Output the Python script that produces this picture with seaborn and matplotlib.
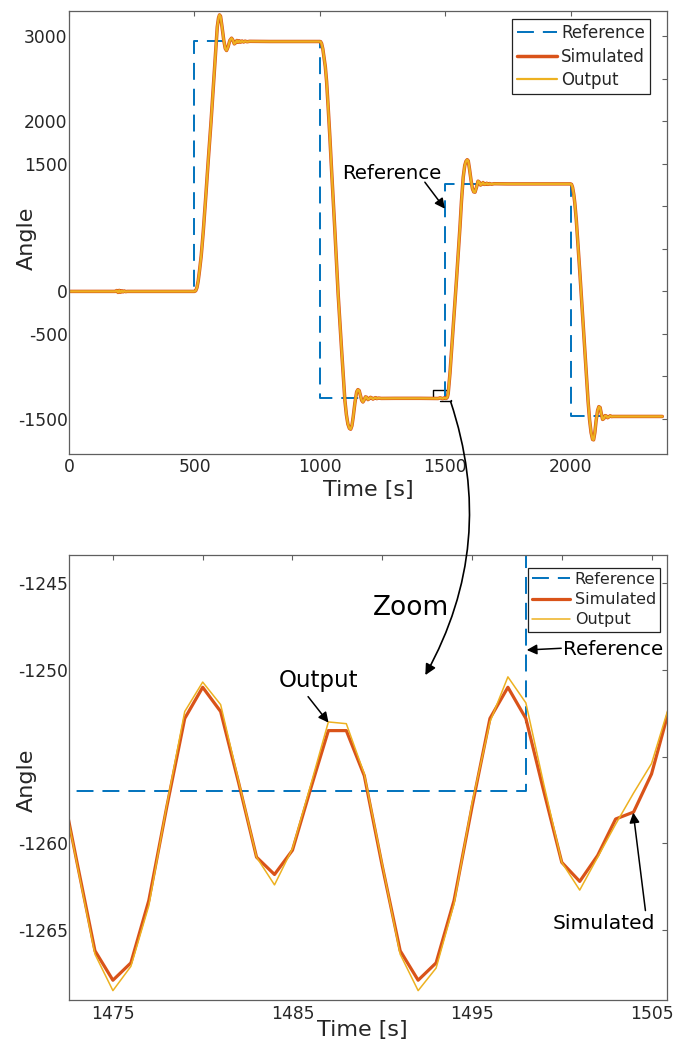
import matplotlib
matplotlib.use("Agg")
import matplotlib.pyplot as plt
import seaborn as sns
from matplotlib.patches import ConnectionPatch

# ---------------- data ----------------
ref_time = [0, 500, 1000, 1498, 2000, 2366]
ref_angle = [0, 2938, -1257, 1264, -1470, -1470]

top_time = [0, 100, 185, 190, 195, 200, 205, 210, 215, 220, 225, 232, 300, 400, 495, 500,
            505, 510, 515, 520, 527, 535, 545, 555, 566, 575, 583, 591, 596, 600, 604, 610,
            617, 623, 628, 634, 641, 648, 653, 659, 664, 669, 674, 679, 684, 690, 696, 702,
            710, 720, 800, 900, 1000,
            1003, 1007, 1012, 1017, 1022, 1027, 1033, 1040, 1047, 1060, 1073, 1087, 1100,
            1106, 1112, 1118, 1123, 1128, 1133, 1140, 1147, 1152, 1157, 1162, 1167, 1172,
            1177, 1182, 1187, 1192, 1197, 1202, 1207, 1212, 1217, 1222, 1227, 1235, 1245,
            1300, 1400, 1472, 1480, 1490, 1497, 1503, 1506,
            1509, 1512, 1519, 1525, 1532, 1539, 1545, 1552, 1559, 1565, 1572, 1578, 1583,
            1588, 1592, 1597, 1603, 1609, 1614, 1619, 1625, 1631, 1636, 1641, 1646, 1651,
            1656, 1661, 1666, 1671, 1677, 1685, 1695, 1750, 1850, 1950, 2000,
            2004, 2008, 2013, 2017, 2023, 2030, 2037, 2044, 2050, 2057, 2064, 2070, 2076,
            2082, 2088, 2092, 2097, 2102, 2108, 2113, 2118, 2123, 2128, 2133, 2138, 2143,
            2148, 2153, 2158, 2163, 2170, 2250, 2366]
# Simulated and Output coincide at the scale of the upper panel
top_angle = [0, 0, 0, 10, -12, 12, -10, 8, -6, 5, -3, 0, 0, 0, 0, 0,
             8, 45, 125, 240, 420, 700, 1110, 1540, 1990, 2390, 2760, 3110, 3215, 3251, 3235, 3110,
             2950, 2855, 2832, 2875, 2950, 2977, 2955, 2910, 2922, 2950, 2928, 2946, 2930, 2944, 2932, 2942,
             2935, 2940, 2938, 2938, 2938,
             2936, 2915, 2850, 2745, 2640, 2470, 2180, 1820, 1422, 717, -27, -693, -1281,
             -1450, -1560, -1610, -1620, -1580, -1480, -1310, -1180, -1155, -1165, -1225, -1280, -1300,
             -1275, -1240, -1245, -1272, -1262, -1245, -1252, -1266, -1256, -1249, -1260, -1254, -1258,
             -1257, -1257, -1259, -1251, -1261, -1251, -1259, -1252,
             -1240, -1202, -967, -715, -420, -135, 130, 443, 756, 1060, 1343, 1480, 1530,
             1548, 1535, 1440, 1310, 1205, 1170, 1167, 1225, 1296, 1285, 1250, 1262, 1280,
             1258, 1260, 1272, 1258, 1268, 1260, 1266, 1264, 1264, 1264, 1264,
             1258, 1225, 1140, 1040, 840, 540, 230, -90, -370, -700, -1010, -1290, -1510,
             -1660, -1740, -1745, -1660, -1520, -1400, -1355, -1365, -1440, -1505, -1495, -1460, -1465,
             -1485, -1475, -1462, -1472, -1470, -1470, -1470]

zoom_time = [1472, 1473, 1474, 1475, 1476, 1477, 1478, 1479, 1480, 1481, 1482, 1483,
             1484, 1485, 1486, 1487, 1488, 1489, 1490, 1491, 1492, 1493, 1494, 1495,
             1496, 1497, 1498, 1499, 1500, 1501, 1502, 1503, 1504, 1505, 1506]
zoom_simulated = [-1255.9, -1261.1, -1266.2, -1267.9, -1266.9, -1263.3, -1257.9, -1252.8,
                  -1251.0, -1252.4, -1256.5, -1260.8, -1261.8, -1260.4, -1256.9, -1253.5,
                  -1253.5, -1256.1, -1261.3, -1266.2, -1267.9, -1266.9, -1263.3, -1257.9,
                  -1252.8, -1251.0, -1252.8, -1257.0, -1261.1, -1262.2, -1260.7, -1258.6,
                  -1258.2, -1256.0, -1252.2]
zoom_output = [-1255.9, -1261.2, -1266.4, -1268.5, -1267.1, -1263.6, -1257.8, -1252.4,
               -1250.7, -1252.0, -1256.4, -1260.8, -1262.4, -1260.3, -1256.7, -1253.0,
               -1253.1, -1256.0, -1261.2, -1266.4, -1268.5, -1267.2, -1263.5, -1257.7,
               -1253.0, -1250.4, -1251.9, -1256.6, -1261.1, -1262.7, -1260.8, -1258.9,
               -1257.1, -1255.4, -1252.0]

series_labels = ["Reference", "Simulated", "Output"]

top_xticks = [0, 500, 1000, 1500, 2000]
top_xtick_labels = ["0", "500", "1000", "1500", "2000"]
top_yticks = [-1500, -1000, -500, 0, 500, 1000, 1500, 2000, 2500, 3000]
top_ytick_labels = ["-1500", "", "-500", "0", "", "", "1500", "2000", "", "3000"]
zoom_xticks = [1475, 1480, 1485, 1490, 1495, 1500, 1505]
zoom_xtick_labels = ["1475", "", "1485", "", "1495", "", "1505"]
zoom_yticks = [-1265, -1260, -1255, -1250, -1245]
zoom_ytick_labels = ["-1265", "-1260", "", "-1250", "-1245"]

# ---------------- style ----------------
sns.set_style("white")
plt.rcParams["font.family"] = ["DejaVu Sans"]
plt.rcParams["axes.unicode_minus"] = False

C_REF = "#0072BD"
C_SIM = "#D95319"
C_OUT = "#EDB120"
SPINE = "#5f5f5f"
TXT = "#262626"
REF_LS = (0, (8.7, 4.6))

fig = plt.figure(figsize=(6.85, 10.41), dpi=100)
ax1 = fig.add_axes([0.10088, 0.56359, 0.87255, 0.42613])
ax2 = fig.add_axes([0.10088, 0.03939, 0.87255, 0.42747])


def style_axes(ax, xpad):
    for s in ax.spines.values():
        s.set_visible(True)
        s.set_color(SPINE)
        s.set_linewidth(0.9)
    ax.tick_params(axis="both", direction="in", length=3.8, width=0.8, color=SPINE,
                   labelsize=12.3, labelcolor=TXT, top=True, right=True)
    ax.tick_params(axis="y", pad=1.0)
    ax.tick_params(axis="x", pad=xpad)


# ---------------- upper panel ----------------
sns.lineplot(x=ref_time, y=ref_angle, ax=ax1, color=C_REF, lw=1.4, linestyle=REF_LS,
             drawstyle="steps-post", estimator=None, sort=False, label=series_labels[0])
sns.lineplot(x=top_time, y=top_angle, ax=ax1, color=C_SIM, lw=2.5,
             estimator=None, sort=False, label=series_labels[1])
sns.lineplot(x=top_time, y=top_angle, ax=ax1, color=C_OUT, lw=1.6,
             estimator=None, sort=False, label=series_labels[2])

ax1.set_xlim(0, 2384)
ax1.set_ylim(-1915, 3300)
ax1.set_xticks(top_xticks)
ax1.set_xticklabels(top_xtick_labels)
ax1.set_yticks(top_yticks)
ax1.set_yticklabels(top_ytick_labels)
style_axes(ax1, 2.5)
ax1.set_xlabel("Time [s]", fontsize=16, color=TXT)
ax1.set_ylabel("Angle", fontsize=16, color=TXT)
ax1.xaxis.set_label_coords(0.5, -0.058)
ax1.yaxis.set_label_coords(-0.0537, 0.4876)

h, l = ax1.get_legend_handles_labels()
leg1 = ax1.legend(h, l, loc="upper right", bbox_to_anchor=(0.9719, 0.9806), borderaxespad=0,
                  fontsize=12, handlelength=2.4, handletextpad=0.25, labelspacing=0.32,
                  borderpad=0.3, fancybox=False, framealpha=1, edgecolor="#222222")
leg1.get_frame().set_linewidth(0.9)
for t in leg1.get_texts():
    t.set_color(TXT)

# annotation "Reference" in upper panel
ax1.text(1286, 1324, "Reference", fontsize=14.2, ha="center", va="baseline", color="black")
ax1.annotate("", xy=(1498.8, 972), xytext=(1419, 1284),
             arrowprops=dict(arrowstyle="-|>", color="black", lw=1.1, shrinkA=0, shrinkB=0,
                             mutation_scale=15))
# zoom marker brackets
ax1.plot([1450, 1450, 1506, 1506], [-1250, -1155, -1155, -1250], color="black", lw=1.0,
         zorder=1.5)
ax1.plot([1479, 1521.5, 1521.5], [-1293, -1293, -1272], color="black", lw=1.0, zorder=1.5)

# ---------------- lower panel ----------------
sns.lineplot(x=ref_time, y=ref_angle, ax=ax2, color=C_REF, lw=1.4, linestyle=REF_LS,
             drawstyle="steps-post", estimator=None, sort=False, label=series_labels[0])
sns.lineplot(x=zoom_time, y=zoom_simulated, ax=ax2, color=C_SIM, lw=2.3,
             estimator=None, sort=False, label=series_labels[1])
sns.lineplot(x=zoom_time, y=zoom_output, ax=ax2, color=C_OUT, lw=1.1,
             estimator=None, sort=False, label=series_labels[2])

ax2.set_xlim(1472.56, 1505.85)
ax2.set_ylim(-1269.04, -1243.37)
ax2.set_xticks(zoom_xticks)
ax2.set_xticklabels(zoom_xtick_labels)
ax2.set_yticks(zoom_yticks)
ax2.set_yticklabels(zoom_ytick_labels)
style_axes(ax2, 3.5)
ax2.set_xlabel("Time [s]", fontsize=16, color=TXT)
ax2.set_ylabel("Angle", fontsize=16, color=TXT)
ax2.xaxis.set_label_coords(0.491, -0.045)
ax2.yaxis.set_label_coords(-0.0537, 0.4944)

h, l = ax2.get_legend_handles_labels()
leg2 = ax2.legend(h, l, loc="upper right", bbox_to_anchor=(0.9891, 0.9715), borderaxespad=0,
                  fontsize=11.5, handlelength=2.38, handletextpad=0.28, labelspacing=0.32,
                  borderpad=0.27, fancybox=False, framealpha=1, edgecolor="#222222")
leg2.get_frame().set_linewidth(0.9)
for t in leg2.get_texts():
    t.set_color(TXT)

arrow_kw = dict(arrowstyle="-|>", color="black", lw=1.1, shrinkA=0, shrinkB=0,
                mutation_scale=15)
ax2.text(1491.63, -1246.83, "Zoom", fontsize=19, ha="center", va="baseline", color="black")
ax2.text(1486.43, -1250.96, "Output", fontsize=16.5, ha="center", va="baseline", color="black")
ax2.annotate("", xy=(1487.01, -1253.04), xytext=(1485.87, -1251.54), arrowprops=arrow_kw)
ax2.text(1500.05, -1249.13, "Reference", fontsize=14.3, ha="left", va="baseline", color="black")
ax2.annotate("", xy=(1498.05, -1248.85), xytext=(1499.97, -1248.75), arrowprops=arrow_kw)
ax2.text(1502.33, -1264.96, "Simulated", fontsize=14.6, ha="center", va="baseline", color="black")
ax2.annotate("", xy=(1503.98, -1258.23), xytext=(1504.66, -1263.88), arrowprops=arrow_kw)

# curved "zoom" arrow from upper panel to lower panel
con = ConnectionPatch(xyA=(1521.5, -1293), coordsA=ax1.transData,
                      xyB=(1492.4, -1250.3), coordsB=ax2.transData,
                      arrowstyle="-|>", connectionstyle="arc3,rad=-0.22",
                      color="black", lw=1.2, mutation_scale=16)
fig.add_artist(con)

fig.savefig("out.png", dpi=100)
